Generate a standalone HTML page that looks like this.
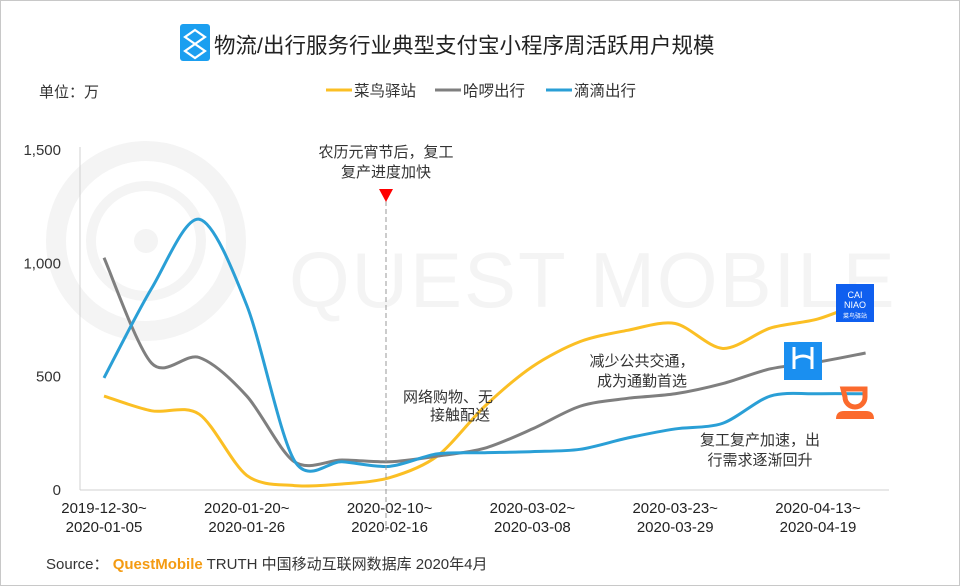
<!DOCTYPE html>
<html><head><meta charset="utf-8">
<style>
body{margin:0;background:#fff;}
#wrap{position:relative;width:958px;height:584px;border:1px solid #c8c8c8;overflow:hidden;font-family:"Liberation Sans","Noto Sans CJK SC",sans-serif;color:#333;}
svg text{font-family:"Liberation Sans","Noto Sans CJK SC",sans-serif;}
</style></head><body>
<div id="wrap">
<svg id="chart" width="958" height="584">
  <g fill="none" stroke="#f4f4f4">
    <circle cx="145" cy="240" r="90" stroke-width="20"/>
    <circle cx="145" cy="240" r="55" stroke-width="10"/>
    <circle cx="145" cy="240" r="12" fill="#f4f4f4" stroke="none"/>
    <text x="288" y="306" font-size="78" fill="#f4f4f4" stroke="none" letter-spacing="2">QUEST MOBILE</text>
  </g>
  <g>
    <rect x="179" y="23" width="30" height="37" rx="3" fill="#1b9ff0"/>
    <path d="M194 29 l10 7 -10 7 10 7 -10 7 -10 -7 10 -7 -10 -7z" fill="none" stroke="#fff" stroke-width="2.2"/>
    <text x="213" y="52" font-size="21.5" fill="#222">物流/出行服务行业典型支付宝小程序周活跃用户规模</text>
  </g>
  <text x="38" y="96" font-size="15" fill="#333">单位：万</text>
  <g id="legend"></g>
  <g id="axes"></g>
  <g id="lines"></g>
  <g font-size="15" fill="#333" text-anchor="middle">
    <line x1="385" y1="200" x2="385" y2="530" stroke="#999" stroke-dasharray="5,3"/>
    <path d="M378 188 L392 188 L385 201z" fill="#f00"/>
    <text x="385" y="156">农历元宵节后，复工</text>
    <text x="385" y="176">复产进度加快</text>
    <text x="447" y="401">网络购物、无</text>
    <text x="459" y="419">接触配送</text>
    <text x="641" y="365">减少公共交通，</text>
    <text x="641" y="385">成为通勤首选</text>
    <text x="759" y="444">复工复产加速，出</text>
    <text x="759" y="464">行需求逐渐回升</text>
  </g>
  <g>
    <rect x="835" y="283" width="38" height="38" fill="#0f5fef"/>
    <text x="854" y="297" font-size="9" fill="#fff" text-anchor="middle">CAI</text>
    <text x="854" y="307" font-size="9" fill="#fff" text-anchor="middle">NIAO</text>
    <text x="854" y="317" font-size="6" fill="#fff" text-anchor="middle">菜鸟驿站</text>
    <rect x="783" y="341" width="38" height="38" fill="#1a8ff0"/>
    <path d="M793 346 v22 M811 346 v22 M793 358 q9 -6 18 0" stroke="#fff" stroke-width="3" fill="none"/>
    <g>
      <path d="M842 388 h22 v8 a10 10 0 0 1 -10 10 h0 a10 10 0 0 1 -10 -10z" fill="none" stroke="#fb6a2d" stroke-width="5"/>
      <path d="M835 418 q0 -8 8 -8 h22 q8 0 8 8z" fill="#fb6a2d"/>
    </g>
  </g>
  <text x="45" y="568" font-size="15" fill="#333">Source： <tspan fill="#f49b12" font-weight="bold">QuestMobile</tspan> TRUTH 中国移动互联网数据库 2020年4月</text>
</svg>
</div>
<script>
const categories=["2019-12-30~2020-01-05","2020-01-06","2020-01-13","2020-01-20~2020-01-26","2020-01-27","2020-02-03","2020-02-10~2020-02-16","2020-02-17","2020-02-24","2020-03-02~2020-03-08","2020-03-09","2020-03-16","2020-03-23~2020-03-29","2020-03-30","2020-04-06","2020-04-13~2020-04-19","2020-04-20"];
const cainiao=[410,345,330,60,15,22,50,145,365,540,650,700,730,620,710,750,830];
const hello=[1020,555,580,410,120,128,120,145,180,265,365,400,420,465,530,560,600];
const didi=[490,885,1190,810,125,120,100,155,160,165,175,225,265,290,410,420,420];
const yTicks=[0,500,1000,1500];
const tickIdx=[0,3,6,9,12,15];
const seriesNames=["菜鸟驿站","哈啰出行","滴滴出行"];
const seriesColors=["#fbbf24","#7f7f7f","#2a9fd6"];
const NS="http://www.w3.org/2000/svg";
function xs(i){return 103+i*47.6;}
function ys(v){return 488-v*0.2267;}
function mk(t,a,p){const e=document.createElementNS(NS,t);for(const k in a)e.setAttribute(k,a[k]);p.appendChild(e);return e;}
const axes=document.getElementById('axes');
const yAxis=mk('line',{x1:79,y1:146,x2:79,y2:489,stroke:'#d0d0d0'},axes);


const xAxis=mk('line',{x1:79,y1:489,x2:888,y2:489,stroke:'#d0d0d0'},axes);


yTicks.forEach(v=>{const t=mk('text',{x:60,y:ys(v)+6,'font-size':15,fill:'#333','text-anchor':'end'},axes);t.textContent=v.toLocaleString('en-US');

});
tickIdx.forEach(i=>{const parts=categories[i].split('~');const t=mk('text',{x:xs(i),y:512,'font-size':15,fill:'#222','text-anchor':'middle'},axes);


mk('tspan',{x:xs(i),dy:0},t).textContent=parts[0]+'~';mk('tspan',{x:xs(i),dy:19},t).textContent=parts[1];});
function path(vals){const p=vals.map((v,i)=>[xs(i),ys(v)]);let d='M'+p[0][0]+' '+p[0][1];
for(let i=0;i<p.length-1;i++){const p0=p[Math.max(0,i-1)],p1=p[i],p2=p[i+1],p3=p[Math.min(p.length-1,i+2)];const k=0.15;
d+=' C'+(p1[0]+(p2[0]-p0[0])*k)+' '+(p1[1]+(p2[1]-p0[1])*k)+' '+(p2[0]-(p3[0]-p1[0])*k)+' '+(p2[1]-(p3[1]-p1[1])*k)+' '+p2[0]+' '+p2[1];}return d;}
const lines=document.getElementById('lines');
[cainiao,hello,didi].forEach((s,j)=>{const l=mk('path',{d:path(s),fill:'none',stroke:seriesColors[j],'stroke-width':3},lines);

});
const lg=document.getElementById('legend');const lx=[325,434,545];
seriesNames.forEach((n,j)=>{const g=mk('g',{},lg);


mk('line',{x1:lx[j],y1:89,x2:lx[j]+26,y2:89,stroke:seriesColors[j],'stroke-width':3},g);
const t=mk('text',{x:lx[j]+28,y:95,'font-size':15.5,fill:'#333'},g);t.textContent=n;});
</script>
</body></html>
